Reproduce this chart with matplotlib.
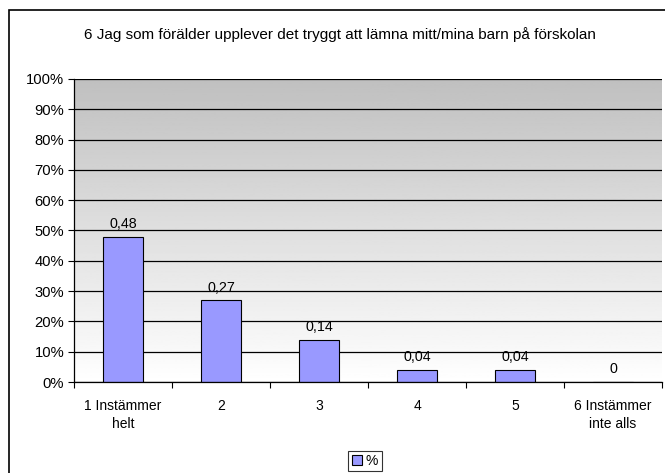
import numpy as np
import matplotlib
matplotlib.use('Agg')
from matplotlib import pyplot as plt
from matplotlib.patches import Rectangle

plt.rcParams['font.family'] = ['Liberation Sans', 'DejaVu Sans']

# data
categories = ['1 Instämmer\nhelt', '2', '3', '4', '5', '6 Instämmer\ninte alls']
values = [0.48, 0.27, 0.14, 0.04, 0.04, 0.0]
yticks = [0, 0.1, 0.2, 0.3, 0.4, 0.5, 0.6, 0.7, 0.8, 0.9, 1.0]
title = '6 Jag som förälder upplever det tryggt att lämna mitt/mina barn på förskolan'
series_name = '%'

W, H = 665, 473
fig = plt.figure(figsize=(W / 100, H / 100), dpi=100)

# chart border (left/top visible, rest runs off the picture)
fig.patches.append(Rectangle((9 / W, -0.05), 1.0, 1 - 10 / H + 0.05,
                             transform=fig.transFigure, fill=False,
                             edgecolor='black', lw=1.2))

ax = fig.add_axes([74 / W, 1 - 382 / H, (662 - 74) / W, (382 - 79) / H])

x = np.arange(len(categories))

# gray (top) to white (bottom) gradient like the Excel plot area
grad = np.linspace(0.75, 1.0, 256).reshape(-1, 1)
ax.imshow(grad, cmap='gray', vmin=0, vmax=1, aspect='auto', origin='upper',
          extent=[-0.5, len(categories) - 0.5, 0.0, 1.0], zorder=0)

for t in yticks:
    ax.axhline(t, color='black', lw=0.9, zorder=1)

bars = ax.bar(x, values, width=0.41, color='#9999FF', edgecolor='black',
              lw=0.8, zorder=2, label=series_name)

for xi, v in zip(x, values):
    txt = ('%.2f' % v).replace('.', ',') if v != 0 else '0'
    ax.annotate(txt, (xi, v), xytext=(0, 4), textcoords='offset points',
                ha='center', va='bottom', fontsize=10.3)

ax.set_xlim(-0.5, len(categories) - 0.5)
ax.set_ylim(0, 1.0)
ax.set_yticks(yticks)
ax.set_yticklabels(['%d%%' % round(t * 100) for t in yticks], fontsize=10.6)
ax.set_xticks(np.arange(len(categories) + 1) - 0.5)
ax.set_xticklabels([])
ax.set_xticks(x, minor=True)
ax.set_xticklabels(categories, minor=True, fontsize=10, linespacing=1.4)
ax.tick_params(axis='x', which='minor', length=0, pad=12)
ax.tick_params(axis='x', which='major', length=4, direction='out')
ax.tick_params(axis='y', length=4, direction='out', pad=3)
for s in ['top', 'right']:
    ax.spines[s].set_visible(False)
ax.spines['left'].set_linewidth(0.9)
ax.spines['bottom'].set_linewidth(0.9)

fig.text(340 / W, 1 - 35 / H, title, ha='center', va='center', fontsize=11)

leg = fig.legend(handles=[bars], loc='center', bbox_to_anchor=(365 / W, 1 - 461 / H),
                 frameon=True, fancybox=False, fontsize=10, handlelength=0.7,
                 handleheight=0.7, handletextpad=0.3, borderpad=0.25,
                 borderaxespad=0)
leg.get_frame().set_edgecolor('black')
leg.get_frame().set_linewidth(0.8)

fig.savefig('out.png', dpi=100)
